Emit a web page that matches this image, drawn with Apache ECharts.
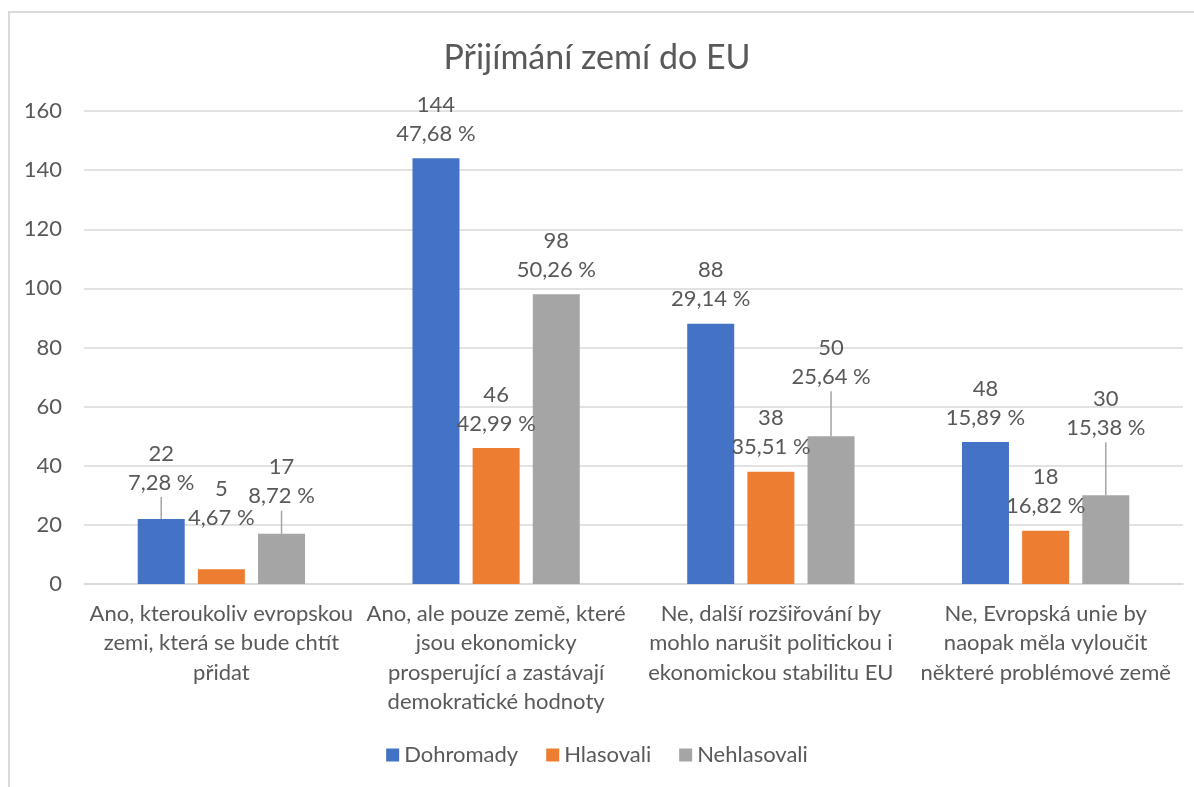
<!DOCTYPE html>
<html>
<head>
<meta charset="utf-8">
<script src="https://cdn.jsdelivr.net/npm/echarts@6/dist/echarts.min.js"></script>
<style>
  html, body { margin: 0; padding: 0; background: #fff; }
  #chart { width: 1194px; height: 787px; }
  #frame { position: absolute; left: 8px; top: 11px; right: 0; bottom: 0;
    border-top: 2px solid #d9d9d9; border-left: 2px solid #d9d9d9; pointer-events: none; }
</style>
</head>
<body>
<div id="chart"></div>
<div id="frame"></div>
<script>
// Přijímání zemí do EU — odpovědi podle skupin
const categories = [
  'Ano, kteroukoliv evropskou\nzemi, která se bude chtít\npřidat',
  'Ano, ale pouze země, které\njsou ekonomicky\nprosperující a zastávají\ndemokratické hodnoty',
  'Ne, další rozšiřování by\nmohlo narušit politickou i\nekonomickou stabilitu EU',
  'Ne, Evropská unie by\nnaopak měla vyloučit\nněkteré problémové země',
];
const seriesNames = ['Dohromady', 'Hlasovali', 'Nehlasovali'];
const dohromady = [22, 144, 88, 48];
const hlasovali = [5, 46, 38, 18];
const nehlasovali = [17, 98, 50, 30];
const pctDohromady = [7.28, 47.68, 29.14, 15.89];
const pctHlasovali = [4.67, 42.99, 35.51, 16.82];
const pctNehlasovali = [8.72, 50.26, 25.64, 15.38];
const yTicks = [0, 20, 40, 60, 80, 100, 120, 140, 160];

const COLORS = ['#4472C4', '#ED7D31', '#A5A5A5'];
const FONT = 'Lato';
const TXT = '#595959';
const FS = 22;

// posun popisků nahoru (px) a zda kreslit vodicí čáru — jako v Excelu
const SHIFT = [
  [[12, true], [0], [0], [0]],
  [[27, false], [0], [0], [0]],
  [[13, true], [0], [35, true], [43, true]],
];

const fmtPct = p => p.toFixed(2).replace('.', ',') + ' %';

function makeSeries(idx, values, pcts) {
  return {
    name: seriesNames[idx],
    type: 'bar',
    barWidth: 47,
    barGap: '28%',
    itemStyle: { color: COLORS[idx] },
    data: values.map((v, i) => ({
      value: v,
      labelLine: { show: !!SHIFT[idx][i][1] },
    })),
    label: {
      show: true, position: 'top', distance: 10,
      fontFamily: FONT, fontSize: FS, lineHeight: 29, color: TXT, align: 'center',
      formatter: p => p.value + '\n' + fmtPct(pcts[p.dataIndex]),
    },
    labelLine: { show: false, lineStyle: { color: '#A5A5A5', width: 1.5 } },
    labelLayout: p => ({ dy: -SHIFT[idx][p.dataIndex][0] }),
  };
}

const chart = echarts.init(document.getElementById('chart'), null, { renderer: 'canvas' });
chart.setOption({
  animation: false,
  textStyle: { fontFamily: FONT },
  title: {
    text: 'Přijímání zemí do EU', left: 'center', top: 36,
    textStyle: { fontFamily: FONT, fontSize: 34, fontWeight: 'normal', color: TXT },
  },
  legend: {
    bottom: 16, left: 'center', itemWidth: 13, itemHeight: 13, itemGap: 28,
    icon: 'rect',
    textStyle: { fontFamily: FONT, fontSize: FS, color: TXT },
    data: seriesNames,
  },
  grid: { left: 84, right: 11, top: 111, bottom: 203 },
  xAxis: {
    type: 'category', data: categories,
    axisLine: { lineStyle: { color: '#d9d9d9', width: 1.5 } },
    axisTick: { show: false },
    axisLabel: { fontFamily: FONT, fontSize: FS, lineHeight: 29.5, color: TXT, margin: 15, interval: 0 },
  },
  yAxis: {
    type: 'value', min: yTicks[0], max: yTicks[yTicks.length - 1], interval: 20,
    axisLine: { show: false }, axisTick: { show: false },
    axisLabel: { fontFamily: FONT, fontSize: FS, color: TXT, margin: 22 },
    splitLine: { lineStyle: { color: '#d9d9d9', width: 1.5 } },
  },
  series: [
    makeSeries(0, dohromady, pctDohromady),
    makeSeries(1, hlasovali, pctHlasovali),
    makeSeries(2, nehlasovali, pctNehlasovali),
  ],
});
</script>
</body>
</html>
